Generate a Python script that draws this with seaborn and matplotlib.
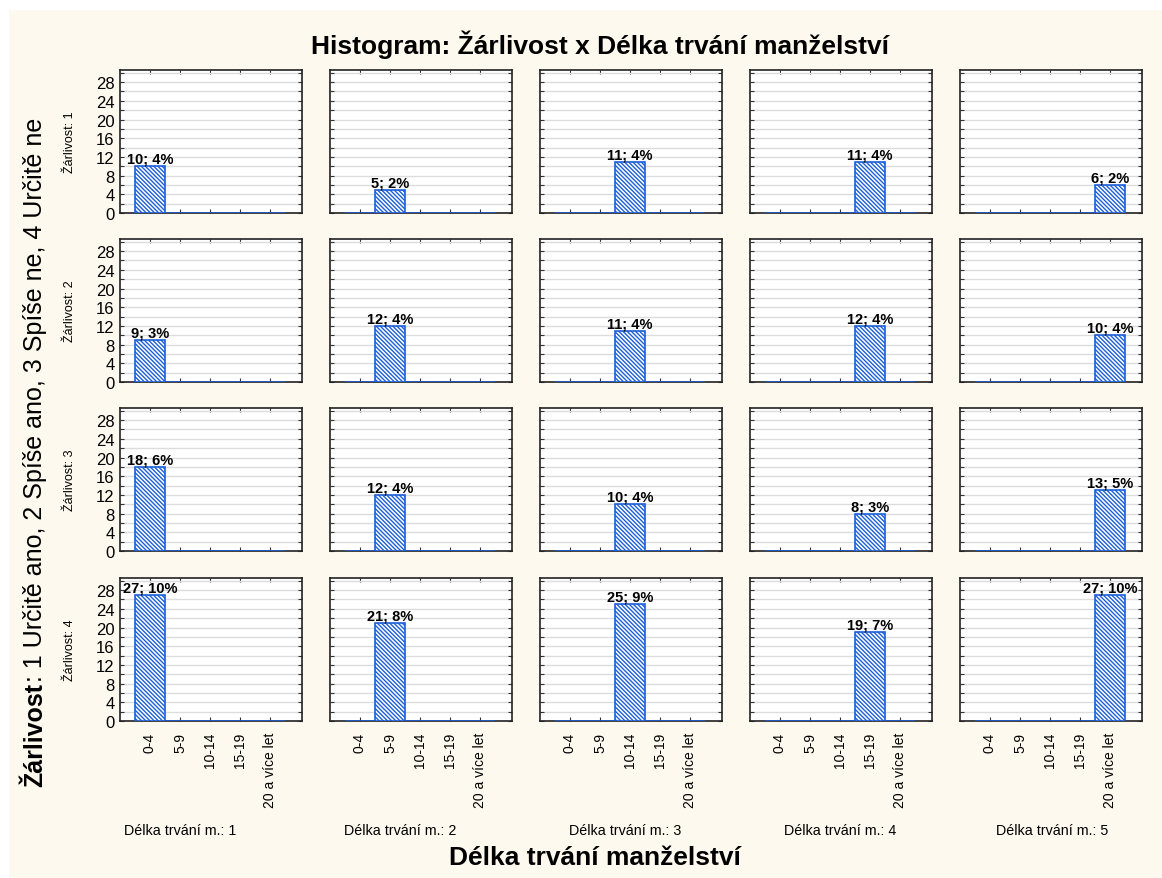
# Histogram grid: Žárlivost x Délka trvání manželství
import numpy as np
import pandas as pd
import seaborn as sns
import matplotlib.pyplot as plt
from matplotlib.patches import Rectangle
from matplotlib.ticker import MultipleLocator

# data
delka_cats = ['0-4', '5-9', '10-14', '15-19', '20 a více let']
zarlivost_levels = [1, 2, 3, 4]
delka_levels = [1, 2, 3, 4, 5]
zarl_1 = [10, 5, 11, 11, 6]
zarl_2 = [9, 12, 11, 12, 10]
zarl_3 = [18, 12, 10, 8, 13]
zarl_4 = [27, 21, 25, 19, 27]

rows = []
for z, vals in zip(zarlivost_levels, [zarl_1, zarl_2, zarl_3, zarl_4]):
    for d, n in zip(delka_levels, vals):
        for i, cat in enumerate(delka_cats):
            rows.append({'zarl': z, 'delka_m': d, 'kat': cat, 'n': n if i == d - 1 else 0})
df = pd.DataFrame(rows)
total = df['n'].sum()

sns.set_style('white')
plt.rcParams['font.family'] = ['Liberation Sans', 'DejaVu Sans']
plt.rcParams['text.color'] = 'black'
plt.rcParams['xtick.color'] = 'black'
plt.rcParams['ytick.color'] = 'black'
plt.rcParams['hatch.color'] = '#3f8ff0'
plt.rcParams['hatch.linewidth'] = 1.0

W, H = 1162, 879
fig = plt.figure(figsize=(W / 100, H / 100), dpi=100, facecolor='white')
fig.patches.append(Rectangle((9 / W, 0), 1 - 9 / W, 1 - 11 / H, transform=fig.transFigure,
                             facecolor='#fef9ee', edgecolor='none', zorder=-10))

def fy(y):
    return 1 - y / H

lefts = [120, 330, 540, 750, 960]
tops = [71, 240, 409, 579]
aw, ah = 182, 143

for r, z in enumerate(zarlivost_levels):
    for c, d in enumerate(delka_levels):
        ax = fig.add_axes([lefts[c] / W, 1 - (tops[r] + ah) / H, aw / W, ah / H])
        sub = df[(df['zarl'] == z) & (df['delka_m'] == d)]
        sns.barplot(data=sub, x='kat', y='n', order=delka_cats, ax=ax, width=1.0,
                    color='white', saturation=1, edgecolor='#1c5fd8', linewidth=1.2,
                    hatch='\\' * 8, errorbar=None, zorder=3)
        for p, n in zip(ax.patches, sub['n']):
            if n > 0:
                pct = round(100 * n / total)
                ax.text(p.get_x() + p.get_width() / 2, n + 0.1, f'{n}; {pct}%',
                        ha='center', va='bottom', fontsize=10.5, fontweight='bold', zorder=5)
        ax.set_facecolor('white')
        ax.set_xlim(-1, 5.07)
        ax.set_ylim(0, 30.6)
        ax.set_yticks(range(0, 29, 4))
        ax.yaxis.set_minor_locator(MultipleLocator(2))
        ax.set_axisbelow(True)
        ax.grid(True, which='both', axis='y', color='#dcdcdc', linewidth=1)
        ax.grid(False, axis='x')
        ax.tick_params(which='both', direction='in', top=True, right=True, left=True,
                       bottom=True, length=3, width=0.8, color='#333333')
        ax.tick_params(axis='y', labelsize=12, pad=4)
        ax.tick_params(axis='x', labelsize=10, rotation=90, pad=8)
        ax.set_xlabel('')
        ax.set_ylabel('')
        if c > 0:
            ax.set_yticklabels([])
        if r < len(zarlivost_levels) - 1:
            ax.set_xticklabels([])
        for s in ax.spines.values():
            s.set_visible(True)
            s.set_color('#222222')
            s.set_linewidth(1.2)

# row labels
for r, z in enumerate(zarlivost_levels):
    fig.text(70 / W, fy(tops[r] + ah / 2), f'Žárlivost: {z}', rotation=90,
             ha='center', va='center', fontsize=9)

# column labels
col_x = [180, 400, 625, 840, 1052]
for x, d in zip(col_x, delka_levels):
    fig.text(x / W, fy(831), f'Délka trvání m.: {d}', ha='center', va='center', fontsize=10.3)

fig.text(600 / W, fy(45), 'Histogram: Žárlivost x Délka trvání manželství',
         ha='center', va='center', fontsize=19, fontweight='bold')
fig.text(595 / W, fy(858), 'Délka trvání manželství',
         ha='center', va='center', fontsize=19, fontweight='bold')

# main y label: bold part + regular part
t1 = fig.text(35 / W, fy(787), 'Žárlivost', rotation=90, rotation_mode='anchor',
              ha='left', va='center', fontsize=18, fontweight='bold')
fig.canvas.draw()
bb = t1.get_window_extent(renderer=fig.canvas.get_renderer())
fig.text(35 / W, (bb.y1 + 1) / H, ': 1 Určitě ano, 2 Spíše ano, 3 Spíše ne, 4 Určitě ne',
         rotation=90, rotation_mode='anchor', ha='left', va='center', fontsize=18)

fig.savefig('out.png', dpi=100, facecolor=fig.get_facecolor())
